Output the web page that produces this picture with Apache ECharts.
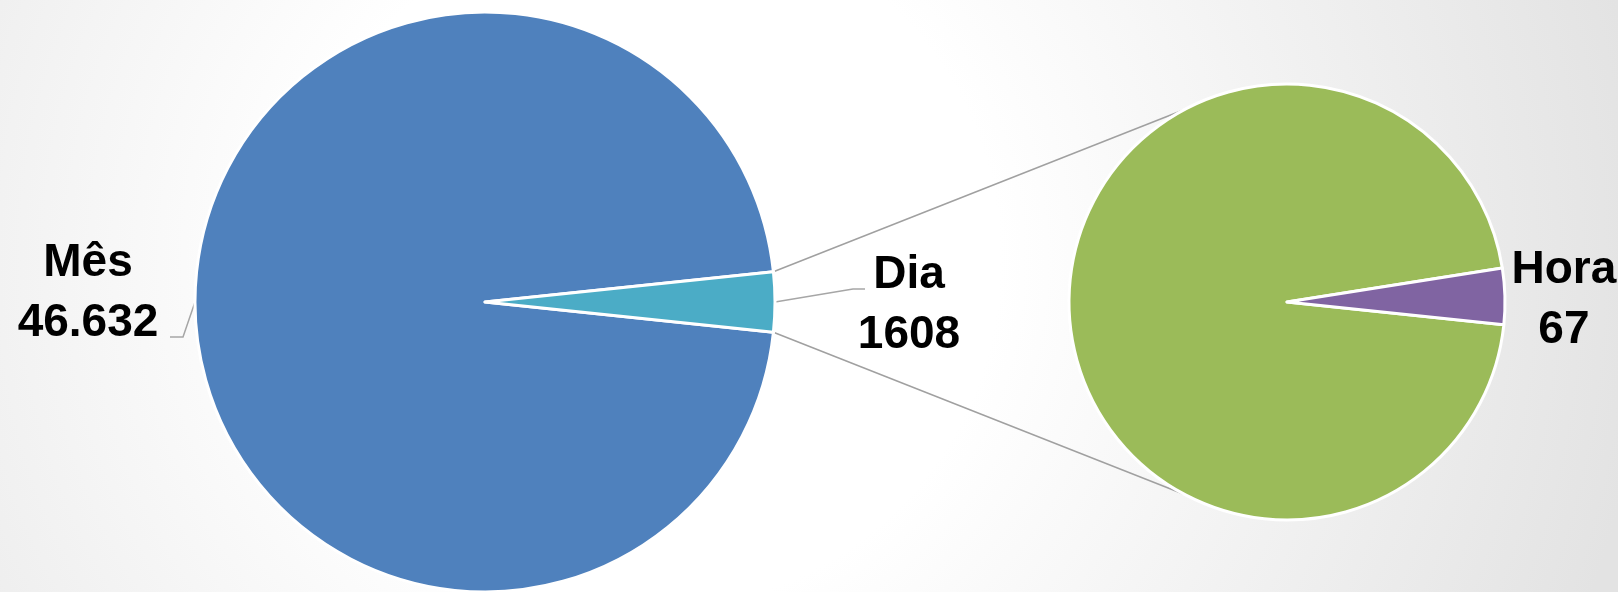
<!DOCTYPE html>
<html>
<head>
<meta charset="utf-8">
<title>Pizza de pizza</title>
<script src="https://cdn.jsdelivr.net/npm/echarts@6/dist/echarts.min.js"></script>
<style>
    html, body { margin: 0; padding: 0; }
    #main { width: 1618px; height: 592px; }
</style>
</head>
<body>
<div id="main"></div>
<script>
// dados
var mainNames = ['Mês', 'Dia'];
var mainValues = [46632, 1608];
var detailNames = ['Dia (resto)', 'Hora'];
var detailValues = [1541, 67];
var labelTexts = { 'Mês': '46.632', 'Dia': '1608', 'Hora': '67' };

var mainColors = ['#4f81bd', '#4bacc6'];
var detailColors = ['#9bbb59', '#8064a2'];

// geometria das duas pizzas
var leftCenter = [485, 302], leftR = 290;
var rightCenter = [1287, 302], rightR = 218;

// deslocamento dos rótulos a partir do ponto na borda da fatia
var labelOffsets = {
    'Mês': { c: [-107, -9], line: [[-12, 35], [-25, 35]] },
    'Dia': { c: [134, 3], line: [[78, -13], [90, -13]] },
    'Hora': { c: [59, 4], line: null }
};

var chart = echarts.init(document.getElementById('main'));

var total = mainValues[0] + mainValues[1];
var halfAngle = 180 * mainValues[1] / total; // metade da fatia "Dia"

var labelStyle = {
    position: 'outside',
    formatter: function (p) {
        return p.name + '\n' + labelTexts[p.name];
    },
    fontFamily: 'Liberation Sans, Arial, sans-serif',
    fontWeight: 'bold',
    fontSize: 46,
    lineHeight: 60,
    color: '#000',
    width: 180,
    overflow: 'none'
};

var placeLabel = function (seriesData) {
    return function (params) {
        var name = seriesData[params.dataIndex].name;
        var off = labelOffsets[name];
        if (!off || !params.labelLinePoints) return {};
        var a = params.labelLinePoints[0];
        var res = {
            x: a[0] + off.c[0],
            y: a[1] + off.c[1],
            align: 'center',
            verticalAlign: 'middle'
        };
        if (off.line) {
            res.labelLinePoints = [
                [a[0], a[1]],
                [a[0] + off.line[0][0], a[1] + off.line[0][1]],
                [a[0] + off.line[1][0], a[1] + off.line[1][1]]
            ];
        }
        return res;
    };
};

var mainData = mainNames.map(function (n, i) {
    return { name: n, value: mainValues[i], itemStyle: { color: mainColors[i] } };
});
var detailData = detailNames.map(function (n, i) {
    return {
        name: n, value: detailValues[i], itemStyle: { color: detailColors[i] },
        label: { show: i === 1 }
    };
});

// linhas de ligação entre as pizzas
var rad = Math.PI / 180;
var connectAngle = 118;
var connectors = [1, -1].map(function (s) {
    return {
        type: 'line',
        z: 0,
        shape: {
            x1: leftCenter[0] + leftR * Math.cos(halfAngle * rad),
            y1: leftCenter[1] - s * leftR * Math.sin(halfAngle * rad),
            x2: rightCenter[0] + rightR * Math.cos(connectAngle * rad),
            y2: rightCenter[1] - s * rightR * Math.sin(connectAngle * rad)
        },
        style: { stroke: '#a0a0a0', lineWidth: 1.5 }
    };
});

var option = {
    backgroundColor: {
        type: 'radial', x: 650, y: 260, r: 1000, global: true,
        colorStops: [
            { offset: 0, color: '#ffffff' },
            { offset: 0.35, color: '#ffffff' },
            { offset: 1, color: '#e3e3e3' }
        ]
    },
    animation: false,
    graphic: connectors,
    series: [
        {
            type: 'pie',
            center: leftCenter,
            radius: leftR,
            startAngle: -halfAngle,
            clockwise: true,
            avoidLabelOverlap: false,
            itemStyle: { borderColor: '#fff', borderWidth: 3 },
            label: labelStyle,
            labelLine: {
                show: true,
                length: 20,
                length2: 10,
                lineStyle: { color: '#a6a6a6', width: 1.5 }
            },
            labelLayout: placeLabel(mainData),
            data: mainData
        },
        {
            type: 'pie',
            center: rightCenter,
            radius: rightR,
            startAngle: -halfAngle,
            clockwise: true,
            avoidLabelOverlap: false,
            itemStyle: { borderColor: '#fff', borderWidth: 3 },
            label: labelStyle,
            labelLine: { show: false, length: 6, length2: 0 },
            labelLayout: placeLabel(detailData),
            data: detailData
        }
    ]
};
chart.setOption(option);
</script>
</body>
</html>
